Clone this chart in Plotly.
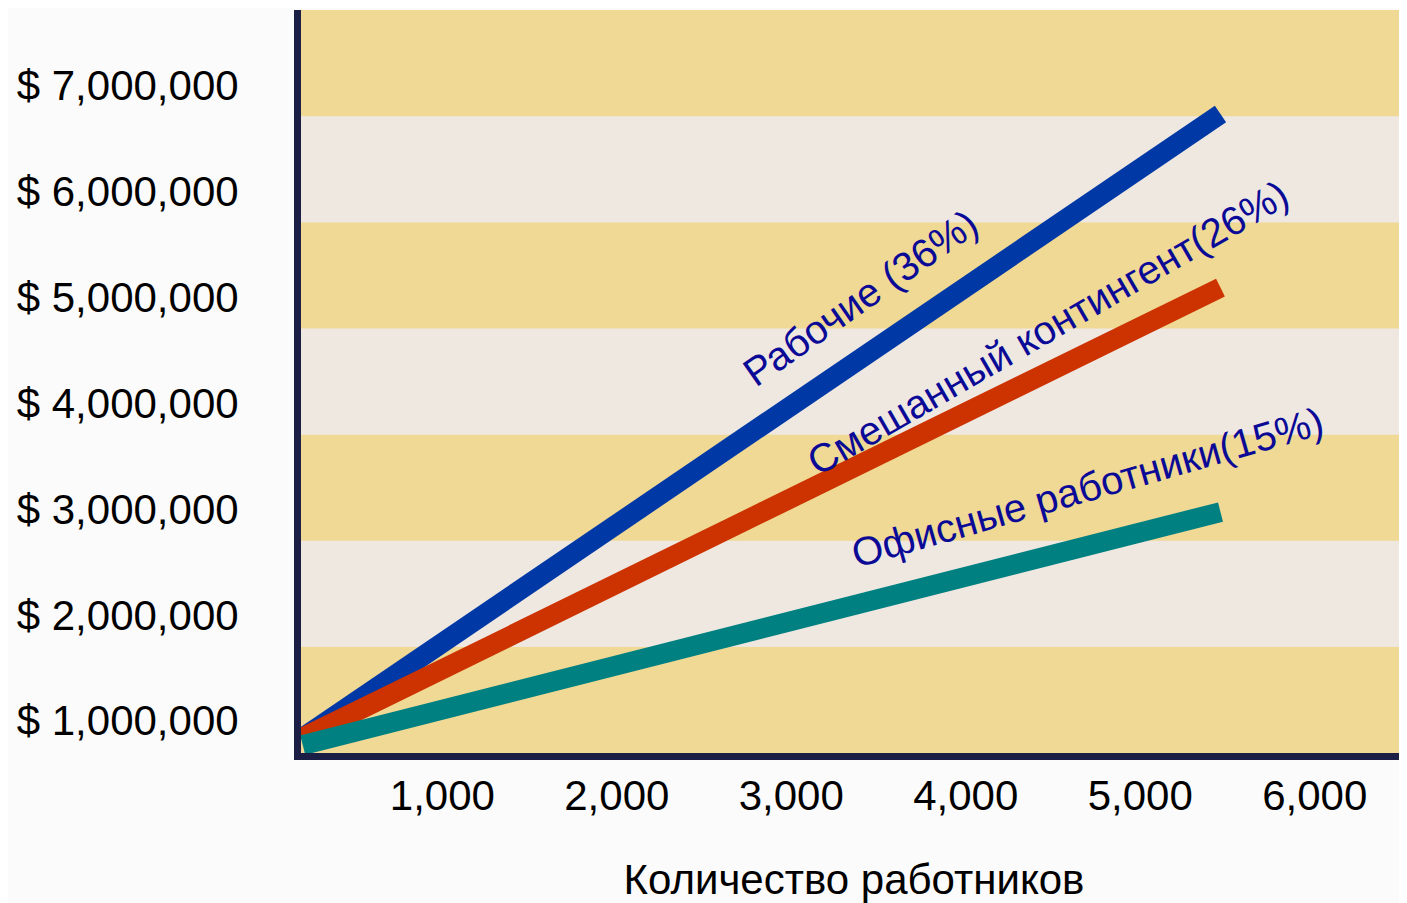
import plotly.graph_objects as go

# ---- data ----
workers = [200, 5460]                      # number of workers (start, end)
series_names = ["Рабочие (36%)", "Смешанный контингент(26%)", "Офисные работники(15%)"]
workers_cost = [840000, 6730000]           # Рабочие
mixed_cost = [840000, 5090000]             # Смешанный контингент
office_cost = [770000, 2970000]            # Офисные работники
series_values = [workers_cost, mixed_cost, office_cost]
series_colors = ["#0039A6", "#CC3300", "#008080"]

x_ticks = [1000, 2000, 3000, 4000, 5000, 6000]
x_tick_labels = ["1,000", "2,000", "3,000", "4,000", "5,000", "6,000"]
y_ticks = [1e6, 2e6, 3e6, 4e6, 5e6, 6e6, 7e6]
y_tick_labels = ["$ 1,000,000", "$ 2,000,000", "$ 3,000,000", "$ 4,000,000",
                 "$ 5,000,000", "$ 6,000,000", "$ 7,000,000"]

# label anchors (data coords) and rotation
label_x = [3394, 4466, 4700]
label_y = [4.99e6, 4.71e6, 3.21e6]
label_angle = [-35, -30, -16]

FONT = "Liberation Sans, Arial, sans-serif"
AXIS_COLOR = "#1B1F45"

fig = go.Figure()
for name, vals, col in zip(series_names, series_values, series_colors):
    fig.add_trace(go.Scatter(x=workers, y=vals, mode="lines", name=name,
                             line=dict(color=col, width=20), showlegend=False,
                             hoverinfo="skip"))

# alternating horizontal bands
n_bands = 7
shapes = []
for i in range(n_bands):
    col = "#F0D895" if i % 2 == 0 else "#EFE8E1"
    shapes.append(dict(type="rect", xref="paper", yref="paper",
                       x0=0, x1=1, y0=i / n_bands, y1=(i + 1) / n_bands,
                       fillcolor=col, line=dict(width=0), layer="below"))

annotations = []
for txt, lx, ly, ang in zip(series_names, label_x, label_y, label_angle):
    annotations.append(dict(x=lx, y=ly, xref="x", yref="y", text=txt,
                            showarrow=False, textangle=ang,
                            font=dict(family=FONT, size=40, color="#0A0A96")))

fig.update_layout(
    width=1399, height=895,
    margin=dict(l=293, r=0, t=2, b=145),
    paper_bgcolor="#FBFBFB",
    plot_bgcolor="#EFE8E1",
    shapes=shapes,
    annotations=annotations,
    font=dict(family=FONT, color="#000000"),
    xaxis=dict(range=[190, 6529], tickvals=x_ticks, ticktext=x_tick_labels,
               showgrid=False, zeroline=False, showline=True, linewidth=7,
               linecolor=AXIS_COLOR, ticks="", ticklabelstandoff=0,
               tickfont=dict(family=FONT, size=42, color="#000000"),
               title=dict(text="Количество работников", standoff=54,
                          font=dict(family=FONT, size=42, color="#000000"))),
    yaxis=dict(range=[0.695e6, 7.712e6], tickvals=y_ticks, ticktext=y_tick_labels,
               showgrid=False, zeroline=False, showline=True, linewidth=7,
               linecolor=AXIS_COLOR, ticks="", ticklabelstandoff=47,
               tickfont=dict(family=FONT, size=42, color="#000000")),
)

fig.write_html("out.html")
